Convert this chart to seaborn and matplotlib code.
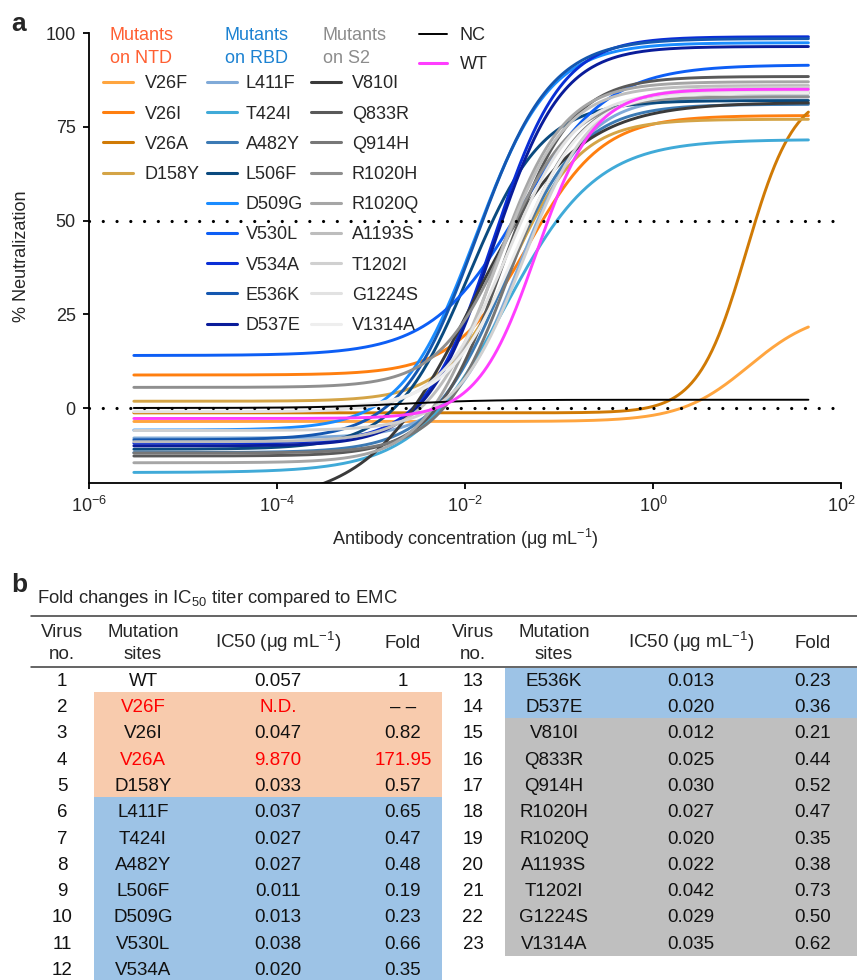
import numpy as np
import pandas as pd
import matplotlib
matplotlib.use("Agg")
import matplotlib.pyplot as plt
import seaborn as sns
from matplotlib.ticker import NullLocator
from matplotlib.patches import Rectangle

# ---------------- panel a: fitted dose-response parameters ----------------
ntd_names = ["V26F", "V26I", "V26A", "D158Y"]
ntd_colors = ["#FFA53F", "#FF7F0F", "#D07A05", "#D4A446"]
ntd_bottom = [-3.6, 8.8, -1.3, 1.8]
ntd_top = [26.0, 78.0, 85.0, 77.0]
ntd_ec50 = [10.5, 0.047, 9.87, 0.033]
ntd_hill = [1.2, 1.1, 1.7, 1.2]

rbd_names = ["L411F", "T424I", "A482Y", "L506F", "D509G", "V530L", "V534A", "E536K", "D537E"]
rbd_colors = ["#80AAD8", "#40AAD8", "#3C7AB4", "#0A4A7F", "#1A8CFF", "#0D5EF5", "#0A2ED6", "#1457B0", "#0A1C9A"]
rbd_bottom = [-8.0, -17.2, -11.9, -11.0, -5.9, 14.0, -9.4, -8.5, -10.1]
rbd_top = [83.0, 71.6, 81.0, 82.0, 97.4, 91.5, 99.0, 98.5, 96.4]
rbd_ec50 = [0.037, 0.027, 0.027, 0.011, 0.013, 0.038, 0.020, 0.013, 0.020]
rbd_hill = [1.2, 0.9, 1.1, 1.1, 1.1, 0.93, 1.2, 1.1, 1.2]

s2_names = ["V810I", "Q833R", "Q914H", "R1020H", "R1020Q", "A1193S", "T1202I", "G1224S", "V1314A"]
s2_colors = ["#3A3A3A", "#595959", "#777777", "#8F8F8F", "#A6A6A6", "#BDBDBD", "#D0D0D0", "#E2E2E2", "#EEEEEE"]
s2_bottom = [-25.6, -12.8, -12.0, 5.5, -14.6, -9.0, -6.0, -1.0, 0.0]
s2_top = [81.5, 88.4, 84.0, 83.0, 87.0, 86.0, 85.5, 84.5, 84.0]
s2_ec50 = [0.012, 0.025, 0.030, 0.027, 0.020, 0.022, 0.042, 0.029, 0.035]
s2_hill = [0.8, 1.2, 1.2, 1.2, 1.2, 1.2, 1.2, 1.2, 1.2]

ctrl_names = ["NC", "WT"]
ctrl_colors = ["#000000", "#FF3DFF"]
ctrl_bottom = [0.0, -2.8]
ctrl_top = [2.2, 85.0]
ctrl_ec50 = [0.002, 0.057]
ctrl_hill = [1.0, 1.4]

conc_range = [3e-6, 45.0]
x_ticks = [1e-6, 1e-4, 1e-2, 1e0, 1e2]
y_ticks = [0, 25, 50, 75, 100]

# ---------------- panel b: table ----------------
virus_no = [str(i) for i in range(1, 24)]
sites = ["WT", "V26F", "V26I", "V26A", "D158Y", "L411F", "T424I", "A482Y", "L506F", "D509G",
         "V530L", "V534A", "E536K", "D537E", "V810I", "Q833R", "Q914H", "R1020H", "R1020Q",
         "A1193S", "T1202I", "G1224S", "V1314A"]
ic50_txt = ["0.057", "N.D.", "0.047", "9.870", "0.033", "0.037", "0.027", "0.027", "0.011", "0.013",
            "0.038", "0.020", "0.013", "0.020", "0.012", "0.025", "0.030", "0.027", "0.020", "0.022",
            "0.042", "0.029", "0.035"]
fold_txt = ["1", "\u2013 \u2013", "0.82", "171.95", "0.57", "0.65", "0.47", "0.48", "0.19", "0.23",
            "0.66", "0.35", "0.23", "0.36", "0.21", "0.44", "0.52", "0.47", "0.35", "0.38",
            "0.73", "0.50", "0.62"]
region = ["WT"] + ["NTD"] * 4 + ["RBD"] * 9 + ["S2"] * 9
red_cells = {(1, 1), (1, 2), (3, 1), (3, 2), (3, 3)}  # (row, col) drawn in red
region_fill = {"NTD": "#F8CBAD", "RBD": "#9DC3E6", "S2": "#BFBFBF"}

# ---------------- style ----------------
sns.set_style("ticks")
plt.rcParams["font.family"] = ["Liberation Sans", "DejaVu Sans"]
plt.rcParams["mathtext.fontset"] = "custom"
plt.rcParams["mathtext.rm"] = "Liberation Sans"
plt.rcParams["mathtext.it"] = "Liberation Sans:italic"
plt.rcParams["mathtext.bf"] = "Liberation Sans:bold"
plt.rcParams["axes.unicode_minus"] = True

W, H = 857, 980
fig = plt.figure(figsize=(W / 100, H / 100), dpi=100)
fig.patch.set_facecolor("white")

ax = fig.add_axes([89 / W, 1 - 483 / H, (841 - 89) / W, (483 - 33) / H])


def four_pl(x, b, t, e, h):
    return b + (t - b) / (1.0 + (e / x) ** h)


names = ntd_names + rbd_names + s2_names + ctrl_names
colors = ntd_colors + rbd_colors + s2_colors + ctrl_colors
bottoms = ntd_bottom + rbd_bottom + s2_bottom + ctrl_bottom
tops = ntd_top + rbd_top + s2_top + ctrl_top
ec50s = ntd_ec50 + rbd_ec50 + s2_ec50 + ctrl_ec50
hills = ntd_hill + rbd_hill + s2_hill + ctrl_hill

xs = np.logspace(np.log10(conc_range[0]), np.log10(conc_range[1]), 400)
frames = []
for n, b, t, e, h in zip(names, bottoms, tops, ec50s, hills):
    frames.append(pd.DataFrame({"conc": xs, "neut": four_pl(xs, b, t, e, h), "virus": n}))
df = pd.concat(frames, ignore_index=True)
palette = dict(zip(names, colors))

main_order = ntd_names + rbd_names + s2_names
sns.lineplot(data=df[df.virus.isin(main_order)], x="conc", y="neut", hue="virus",
             hue_order=main_order, palette=palette, linewidth=2.1, legend=False,
             estimator=None, sort=False, ax=ax)
sns.lineplot(data=df[df.virus == "NC"], x="conc", y="neut", color=palette["NC"],
             linewidth=1.4, legend=False, estimator=None, sort=False, ax=ax)
sns.lineplot(data=df[df.virus == "WT"], x="conc", y="neut", color=palette["WT"],
             linewidth=2.1, legend=False, estimator=None, sort=False, ax=ax)

for yv in (0, 50):
    ax.axhline(yv, color="black", lw=2.3, linestyle=(0, (0.01, 4.3)),
               dash_capstyle="round", zorder=5)

ax.set_xscale("log")
ax.set_xlim(1e-6, 1e2)
ax.set_ylim(-20, 100)
ax.set_xticks(x_ticks)
ax.xaxis.set_minor_locator(NullLocator())
ax.set_yticks(y_ticks)
ax.tick_params(axis="both", labelsize=13, length=4.5, width=1.3, pad=5, color="black")
for side in ("left", "bottom"):
    ax.spines[side].set_linewidth(1.3)
    ax.spines[side].set_color("black")
sns.despine(ax=ax)
ax.set_ylabel("% Neutralization", fontsize=13)
ax.yaxis.set_label_coords(-0.078, 0.505)
ax.set_xlabel("Antibody concentration (\u03bcg mL$^{-1}$)", fontsize=13)
ax.xaxis.set_label_coords(0.5, -0.098)
ax.set_facecolor("none")

# ---------------- overlay in pixel coordinates (legend + table) ----------------
lay = fig.add_axes([0, 0, 1, 1])
lay.set_xlim(0, W)
lay.set_ylim(H, 0)
lay.axis("off")

FS = 13
TFS = 13.5


def T(x, yc, s, ha="left", fs=FS, **kw):
    lay.text(x, yc + 0.716 * fs * 100 / 72 / 2, s, ha=ha, va="baseline", fontsize=fs, **kw)


# panel labels
T(11, 22, "a", fs=19, fontweight="bold")
T(11, 583, "b", fs=19, fontweight="bold")

# legend headers
T(110, 34, "Mutants", color="#FF5F32")
T(110, 57, "on NTD", color="#FF5F32")
T(225, 34, "Mutants", color="#1C82D2")
T(225, 57, "on RBD", color="#1C82D2")
T(323, 34, "Mutants", color="#8C8C8C")
T(323, 57, "on S2", color="#8C8C8C")

row_y0, row_dy = 82.0, 30.2
legend_cols = [(ntd_names, ntd_colors, 103, 145), (rbd_names, rbd_colors, 207, 246),
               (s2_names, s2_colors, 311, 352)]
for nms, cols, hx, tx in legend_cols:
    for i, (n, c) in enumerate(zip(nms, cols)):
        y = row_y0 + i * row_dy
        lay.plot([hx, hx + 30], [y, y], color=c, lw=2.2, solid_capstyle="round")
        T(tx, y, n)
for i, (n, c) in enumerate(zip(ctrl_names, ctrl_colors)):
    y = 34 + i * 29
    lay.plot([419, 447], [y, y], color=c, lw=1.4 if n == "NC" else 2.2, solid_capstyle="round")
    T(460, y, n)

# table title and rules
T(37, 596, "Fold changes in IC$_{50}$ titer compared to EMC", fs=13.3)
lay.plot([31, W], [615.7, 615.7], color="#3A3A3A", lw=1.1)
lay.plot([31, W], [666.7, 666.7], color="#3A3A3A", lw=1.1)

halves = [dict(rows=range(0, 12), cols=[62, 143, 278, 403], fill_x=(94, 442)),
          dict(rows=range(12, 23), cols=[473, 554, 691, 813], fill_x=(505, W))]
ry0, rdy = 679.0, 26.3
for hf in halves:
    c0, c1, c2, c3 = hf["cols"]
    T(c0, 630, "Virus", ha="center", fs=TFS)
    T(c0, 652, "no.", ha="center", fs=TFS)
    T(c1, 630, "Mutation", ha="center", fs=TFS)
    T(c1, 652, "sites", ha="center", fs=TFS)
    T(c2, 641, "IC50 (\u03bcg mL$^{-1}$)", ha="center", fs=TFS)
    T(c3, 641, "Fold", ha="center", fs=TFS)
    for k, r in enumerate(hf["rows"]):
        y = ry0 + k * rdy
        g = region[r]
        if g in region_fill:
            x0, x1 = hf["fill_x"]
            top = y - rdy / 2
            if k == 0:
                top = 668
            lay.add_patch(Rectangle((x0, top), x1 - x0, (y + rdy / 2 + 0.6) - top,
                                    facecolor=region_fill[g], edgecolor="none", zorder=0))
        vals = [virus_no[r], sites[r], ic50_txt[r], fold_txt[r]]
        for ci, (cx, v) in enumerate(zip(hf["cols"], vals)):
            col = "#FF0000" if (r, ci) in red_cells else "#111111"
            T(cx, y, v, ha="center", color=col, zorder=2, fs=TFS)

fig.savefig("out.png", dpi=100, facecolor="white")
